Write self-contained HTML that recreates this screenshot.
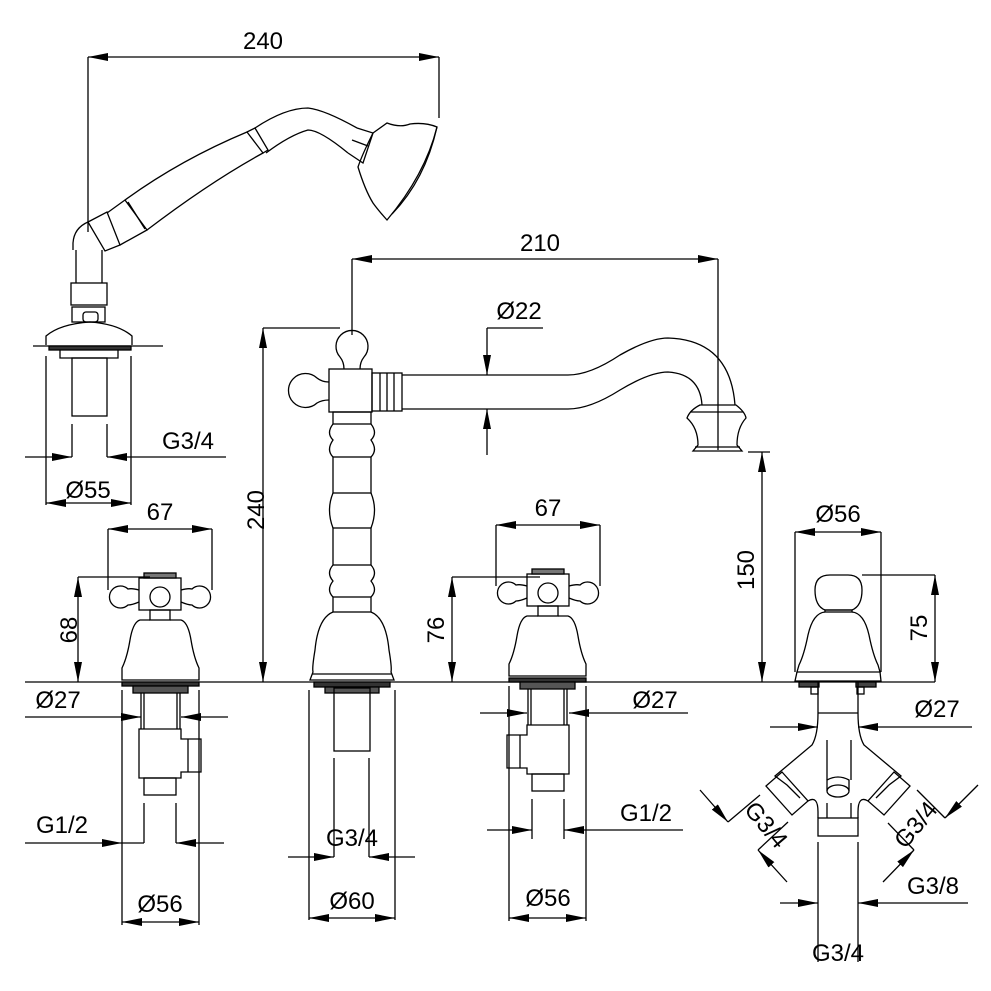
<!DOCTYPE html>
<html><head><meta charset="utf-8"><style>
html,body{margin:0;padding:0;background:#fff}
svg{display:block}
text{font-family:"Liberation Sans",Arial,sans-serif;font-size:24px;fill:#000}
</style></head><body>
<svg width="991" height="991" viewBox="0 0 991 991" xmlns="http://www.w3.org/2000/svg">
<defs>
<marker id="a" viewBox="0 0 20 8" refX="20" refY="4" markerWidth="20" markerHeight="8" orient="auto-start-reverse" markerUnits="userSpaceOnUse"><path d="M0,0 L20,4 L0,8z" fill="#000"/></marker>
</defs>
<g fill="none" stroke="#000" stroke-width="1.3">
<line x1="25" y1="682" x2="935" y2="682"/>
<line x1="33" y1="346" x2="163" y2="346"/>

<!-- ===== hand shower ===== -->
<line x1="88" y1="57" x2="439" y2="57" marker-start="url(#a)" marker-end="url(#a)"/>
<line x1="88" y1="57" x2="88" y2="232"/>
<line x1="439" y1="57" x2="439" y2="118"/>
<path d="M73,250 L73,243 Q74,228 88,222"/>
<path d="M88,222 L107,212 L120,245 L105,251 Z"/>
<path d="M107,213 L125,200 L147,230 L120,245"/>
<line x1="128" y1="202" x2="145" y2="229"/>
<path d="M125,200 Q180,160 247,132 L263,153 Q210,182 147,230"/>
<path d="M247,132 L255,128 L268,150 L263,153"/>
<path d="M255,128 Q285,108 308,108 Q325,110 357,128"/>
<path d="M266,153 Q290,135 308,130 Q320,130 348,153"/>
<path d="M357,128 L373,133 L363,163 L348,153"/>
<line x1="352" y1="140" x2="368" y2="146"/>
<path d="M373,133 L387,123 Q400,128 410,124 Q425,122 437,127 Q425,175 387,220 Q378,210 373,203 Q365,190 358,167 Q362,155 373,133 Z"/>
<path d="M437,127 Q425,180 392,214"/>
<path d="M76,250 L76,283 M102,250 L102,283"/>
<rect x="71" y="283" width="36" height="22"/>
<rect x="72" y="307" width="33" height="15"/>
<rect x="83" y="312" width="15" height="10" rx="3"/>
<path d="M46,345 L46,336 Q60,324 90,322 Q118,324 132,336 L132,345"/>
<rect x="49" y="346" width="82" height="4" fill="#333"/>
<path d="M60,350 L60,358 L118,358 L118,350"/>
<rect x="72" y="358" width="35" height="58"/>
<line x1="46" y1="356" x2="46" y2="505"/>
<line x1="131" y1="356" x2="131" y2="505"/>
<line x1="46" y1="503" x2="131" y2="503" marker-start="url(#a)" marker-end="url(#a)"/>
<line x1="72" y1="424" x2="72" y2="457"/>
<line x1="107" y1="424" x2="107" y2="457"/>
<line x1="25" y1="457" x2="72" y2="457" marker-end="url(#a)"/>
<line x1="226" y1="457" x2="107" y2="457" marker-end="url(#a)"/>

<!-- ===== main spout tap ===== -->
<line x1="352" y1="259" x2="718" y2="259" marker-start="url(#a)" marker-end="url(#a)"/>
<line x1="352" y1="259" x2="352" y2="335"/>
<line x1="718" y1="259" x2="718" y2="450"/>
<line x1="263" y1="328" x2="340" y2="328"/>
<line x1="263" y1="328" x2="263" y2="682" marker-start="url(#a)" marker-end="url(#a)"/>
<path d="M344,369 Q344,362 340,357 A16,16 0 1 1 364,357 Q360,362 360,369"/>
<path d="M329,382 Q322,382 317,378 A17,17 0 1 0 317,403 Q322,400 329,400"/>
<rect x="329" y="369" width="43" height="43"/>
<rect x="372" y="373" width="30" height="38"/>
<line x1="380" y1="373" x2="380" y2="411"/><line x1="387" y1="373" x2="387" y2="411"/><line x1="394" y1="373" x2="394" y2="411"/>
<path d="M402,375 L568,375 Q590,375 620,355 Q650,338 668,338 Q730,340 735,405"/>
<path d="M402,409 L568,409 Q590,409 620,390 Q650,372 668,372 Q700,374 702,405"/>
<path d="M700,405 L736,405 Q745,412 746,418 Q737,428 737,445 L742,451 L693,451 L698,445 Q698,428 687,418 Q690,410 700,405 Z"/>
<line x1="690" y1="412" x2="743" y2="412"/>
<line x1="695" y1="447" x2="740" y2="447"/>
<line x1="487" y1="328" x2="543" y2="328"/>
<line x1="487" y1="328" x2="487" y2="375" marker-end="url(#a)"/>
<line x1="487" y1="455" x2="487" y2="409" marker-end="url(#a)"/>
<rect x="333" y="412" width="38" height="12"/>
<path d="M333,424 Q326,433 333,440 Q326,450 333,457 M371,424 Q378,433 371,440 Q378,450 371,457"/>
<rect x="333" y="457" width="38" height="36"/>
<path d="M333,493 Q326,510 333,528 M371,493 Q378,510 371,528"/>
<rect x="333" y="528" width="38" height="37"/>
<path d="M333,565 Q326,573 333,581 Q326,590 333,597 M371,565 Q378,573 371,581 Q378,590 371,597"/>
<rect x="333" y="597" width="38" height="15"/>
<path d="M333,612 Q318,618 315,650 Q312,668 313,672 L310,680 L394,680 L391,672 Q392,668 389,650 Q386,618 371,612"/>
<line x1="312" y1="674" x2="392" y2="674"/>
<rect x="314" y="682" width="76" height="5" fill="#333"/>
<rect x="325" y="687" width="54" height="6" fill="#555"/>
<rect x="334" y="688" width="36" height="63"/>
<line x1="309" y1="690" x2="309" y2="920"/>
<line x1="395" y1="690" x2="395" y2="920"/>
<line x1="309" y1="918" x2="395" y2="918" marker-start="url(#a)" marker-end="url(#a)"/>
<line x1="334" y1="758" x2="334" y2="857"/>
<line x1="369" y1="758" x2="369" y2="857"/>
<line x1="288" y1="857" x2="334" y2="857" marker-end="url(#a)"/>
<line x1="415" y1="857" x2="369" y2="857" marker-end="url(#a)"/>
<line x1="748" y1="452" x2="770" y2="452"/>
<line x1="762" y1="452" x2="762" y2="682" marker-start="url(#a)" marker-end="url(#a)"/>

<!-- ===== left valve ===== -->
<g id="valve">
<line x1="108" y1="529" x2="212" y2="529" marker-start="url(#a)" marker-end="url(#a)"/>
<line x1="108" y1="529" x2="108" y2="590"/>
<line x1="212" y1="529" x2="212" y2="590"/>
<rect x="139" y="578" width="42" height="32"/>
<rect x="144" y="573" width="32" height="5" fill="#777"/>
<circle cx="160" cy="597" r="10"/>
<path d="M139,590 Q132,588 128,589 A11,11 0 1 0 128,605 Q132,605 139,602"/>
<path d="M181,590 Q188,588 192,589 A11,11 0 1 1 192,605 Q188,605 181,602"/>
<rect x="150" y="610" width="20" height="10"/>
<path d="M150,620 L140,620 Q133,622 130,640 Q127,658 122,668 L122,680 L199,680 L199,668 Q194,658 191,640 Q188,622 181,620 L170,620"/>
<rect x="122" y="682" width="77" height="4" fill="#333"/>
<rect x="133" y="686" width="55" height="7" fill="#555"/>
<path d="M141,693 L141,729 M144,693 L144,729 M177,693 L177,729 M180,693 L180,729"/>
<path d="M139,729 L181,729 L181,739 L201,739 L201,772 L181,772 L181,778 L139,778 Z"/>
<line x1="188" y1="739" x2="188" y2="772"/>
<rect x="144" y="778" width="32" height="17"/>
<line x1="122" y1="690" x2="122" y2="925"/>
<line x1="199" y1="690" x2="199" y2="925"/>
<line x1="122" y1="922" x2="199" y2="922" marker-start="url(#a)" marker-end="url(#a)"/>
<line x1="144" y1="803" x2="144" y2="843"/>
<line x1="176" y1="803" x2="176" y2="843"/>
</g>
<line x1="78" y1="577" x2="150" y2="577"/>
<line x1="78" y1="577" x2="78" y2="682" marker-start="url(#a)" marker-end="url(#a)"/>
<line x1="25" y1="717" x2="141" y2="717" marker-end="url(#a)"/>
<line x1="228" y1="717" x2="181" y2="717" marker-end="url(#a)"/>
<line x1="25" y1="843" x2="122" y2="843" marker-end="url(#a)"/>
<line x1="224" y1="843" x2="176" y2="843" marker-end="url(#a)"/>
<line x1="122" y1="843" x2="144" y2="843"/>

<g transform="translate(708,-4) scale(-1,1)">
<use href="#valve"/>
</g>
<line x1="452" y1="577" x2="540" y2="577"/>
<line x1="452" y1="577" x2="452" y2="682" marker-start="url(#a)" marker-end="url(#a)"/>
<line x1="480" y1="713" x2="527" y2="713" marker-end="url(#a)"/>
<line x1="688" y1="713" x2="569" y2="713" marker-end="url(#a)"/>
<line x1="487" y1="830" x2="532" y2="830" marker-end="url(#a)"/>
<line x1="683" y1="830" x2="564" y2="830" marker-end="url(#a)"/>

<!-- ===== diverter ===== -->
<line x1="795" y1="532" x2="881" y2="532" marker-start="url(#a)" marker-end="url(#a)"/>
<line x1="795" y1="532" x2="795" y2="672"/>
<line x1="881" y1="532" x2="881" y2="672"/>
<path d="M825,610 Q815,606 815,590 Q815,575 830,575 L848,575 Q862,575 862,590 Q862,606 852,610 Z"/>
<rect x="825" y="610" width="27" height="2"/>
<path d="M825,612 Q813,613 808,635 Q804,655 799,665 L797,672 L880,672 L878,665 Q873,655 869,635 Q864,613 852,612"/>
<path d="M797,672 L795,681 L881,681 L880,672"/>
<line x1="862" y1="575" x2="935" y2="575"/>
<line x1="935" y1="575" x2="935" y2="682" marker-start="url(#a)" marker-end="url(#a)"/>
<rect x="799" y="682" width="20" height="5" fill="#444"/>
<rect x="856" y="682" width="20" height="5" fill="#444"/>
<rect x="811" y="687" width="7" height="7"/>
<rect x="857" y="687" width="7" height="7"/>
<path d="M818,682 L818,713 M858,682 L858,713 M818,713 L858,713"/>
<path d="M818,713 Q818,735 812,745 L775,776 L787,785 L800,798 M858,713 Q858,735 864,745 L901,776 L889,785 L876,798"/>
<path d="M766,786 L782,772 L808,801 L792,815 Z"/>
<path d="M910,786 L894,772 L868,801 L884,815 Z"/>
<path d="M808,801 Q818,795 818,812 L818,818 M868,801 Q858,795 858,812 L858,818"/>
<rect x="818" y="818" width="40" height="18"/>
<ellipse cx="838" cy="791" rx="11" ry="6"/>
<path d="M827,791 L827,780 Q838,774 849,780 L849,791"/>
<path d="M827,740 L827,780 M851,740 L851,780 M827,803 L827,818 M851,803 L851,818"/>
<line x1="770" y1="727" x2="818" y2="727" marker-end="url(#a)"/>
<line x1="972" y1="727" x2="858" y2="727" marker-end="url(#a)"/>
<line x1="818" y1="842" x2="818" y2="962"/>
<line x1="858" y1="842" x2="858" y2="962"/>
<line x1="780" y1="903" x2="818" y2="903" marker-end="url(#a)"/>
<line x1="968" y1="903" x2="858" y2="903" marker-end="url(#a)"/>
<line x1="700" y1="790" x2="728" y2="822" marker-end="url(#a)"/>
<line x1="787" y1="882" x2="758" y2="850" marker-end="url(#a)"/>
<line x1="728" y1="822" x2="760" y2="795"/>
<line x1="758" y1="850" x2="788" y2="822"/>
<line x1="978" y1="785" x2="945" y2="818" marker-end="url(#a)"/>
<line x1="883" y1="882" x2="914" y2="850" marker-end="url(#a)"/>
<line x1="945" y1="818" x2="917" y2="790"/>
<line x1="914" y1="850" x2="888" y2="823"/>
</g>

<text x="263" y="49" text-anchor="middle">240</text>
<text x="540" y="251" text-anchor="middle">210</text>
<text x="519" y="319" text-anchor="middle">Ø22</text>
<text x="188" y="449" text-anchor="middle">G3/4</text>
<text x="88" y="498" text-anchor="middle">Ø55</text>
<text x="160" y="520" text-anchor="middle">67</text>
<text x="548" y="516" text-anchor="middle">67</text>
<text x="838" y="522" text-anchor="middle">Ø56</text>
<text x="58" y="708" text-anchor="middle">Ø27</text>
<text x="655" y="708" text-anchor="middle">Ø27</text>
<text x="937" y="717" text-anchor="middle">Ø27</text>
<text x="62" y="833" text-anchor="middle">G1/2</text>
<text x="646" y="821" text-anchor="middle">G1/2</text>
<text x="352" y="846" text-anchor="middle">G3/4</text>
<text x="160" y="912" text-anchor="middle">Ø56</text>
<text x="352" y="909" text-anchor="middle">Ø60</text>
<text x="548" y="906" text-anchor="middle">Ø56</text>
<text x="933" y="894" text-anchor="middle">G3/8</text>
<text x="838" y="961" text-anchor="middle">G3/4</text>
<text transform="translate(264,510) rotate(-90)" text-anchor="middle">240</text>
<text transform="translate(77,630) rotate(-90)" text-anchor="middle">68</text>
<text transform="translate(444,630) rotate(-90)" text-anchor="middle">76</text>
<text transform="translate(754,570) rotate(-90)" text-anchor="middle">150</text>
<text transform="translate(927,628) rotate(-90)" text-anchor="middle">75</text>
<text transform="translate(760,830) rotate(50)" text-anchor="middle">G3/4</text>
<text transform="translate(922,830) rotate(-50)" text-anchor="middle">G3/4</text>
</svg>
</body></html>
